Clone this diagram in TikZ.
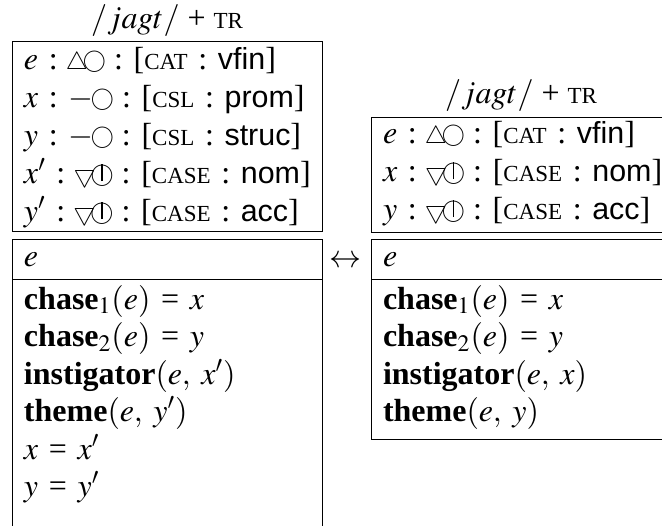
\documentclass[tikz,border=0pt]{standalone}
\usepackage{amsmath}
\usepackage{mathptmx}
\usepackage[no-math]{fontspec}
\setmainfont{Liberation Serif}
\setsansfont{Liberation Sans}[Scale=0.95]
\usetikzlibrary{positioning}

\newcommand{\fsc}[1]{{\fontsize{11.5pt}{12pt}\selectfont #1}}
\newcommand{\nring}{\makebox[9pt]{\raisebox{0.06em}{\resizebox{11.5pt}{!}{$\bigcirc$}}}}
\newcommand{\vring}{\ooalign{\nring\cr\hidewidth\rule[0.06em]{0.035em}{0.52em}\hidewidth\cr}}
\newcommand{\utri}{\makebox[8.5pt]{\resizebox{11pt}{!}{$\triangle$}}}
\newcommand{\dtri}{\rotatebox[origin=c]{180}{\utri}}
\newcommand{\feat}[2]{[\fsc{#1}~:~\textsf{#2}]}

\begin{document}
\begin{tikzpicture}[
  every node/.style={font=\fontsize{16pt}{18.75pt}\selectfont},
  box/.style={draw, shape=rectangle, line width=0.5pt, outer sep=0pt, inner xsep=6pt, inner ysep=0pt, align=left},
  attrbox/.style={box, anchor=north west, font=\fontsize{16pt}{19pt}\selectfont},
  headbox/.style={box, text height=13.5pt, text depth=6.5pt},
  bodybox/.style={box, text height=15pt}
]
\useasboundingbox (0,0) rectangle (331pt,-262.5pt);
\clip (0,0) rectangle (331pt,-262.5pt);

\node (lattr) [attrbox, text width=143pt, text height=14pt, text depth=81pt] at (6pt,-20.5pt)
  {$e$~:~\utri\nring~:~\feat{CAT}{vfin}\\
   $x$~:~$-$\nring~:~\feat{CSL}{prom}\\
   $y$~:~$-$\nring~:~\feat{CSL}{struc}\\
   $x'$~:~\dtri\vring~:~\feat{CASE}{nom}\\
   $y'$~:~\dtri\vring~:~\feat{CASE}{acc}};
\node (ltitle) [anchor=base] at ([yshift=6.5pt]lattr.north) {$/jagt/$ + \fsc{TR}};
\node (lhead) [headbox, text width=143pt, below=4pt of lattr] {$e$};
\node (lbody) [bodybox, text width=143pt, text depth=200pt, below=0pt of lhead]
  {$\textbf{chase}_1(e)$ = $x$\\
   $\textbf{chase}_2(e)$ = $y$\\
   $\textbf{instigator}(e,$ $x')$\\
   $\textbf{theme}(e,$ $y')$\\
   $x$ = $x'$\\
   $y$ = $y'$};

\node (rattr) [attrbox, text width=138pt, text height=13pt, text depth=44.5pt] at (185.5pt,-58.5pt)
  {$e$~:~\utri\nring~:~\feat{CAT}{vfin}\\
   $x$~:~\dtri\vring~:~\feat{CASE}{nom}\\
   $y$~:~\dtri\vring~:~\feat{CASE}{acc}};
\node (rtitle) [anchor=base] at ([yshift=7pt]rattr.north) {$/jagt/$ + \fsc{TR}};
\node (rhead) [headbox, text width=138pt, below=3.5pt of rattr] {$e$};
\node (rbody) [bodybox, text width=138pt, text depth=65pt, below=0pt of rhead]
  {$\textbf{chase}_1(e)$ = $x$\\
   $\textbf{chase}_2(e)$ = $y$\\
   $\textbf{instigator}(e,$ $x)$\\
   $\textbf{theme}(e,$ $y)$};

\node (swap) [right=0pt of lhead, yshift=-1.5pt] {$\leftrightarrow$};
\end{tikzpicture}
\end{document}
